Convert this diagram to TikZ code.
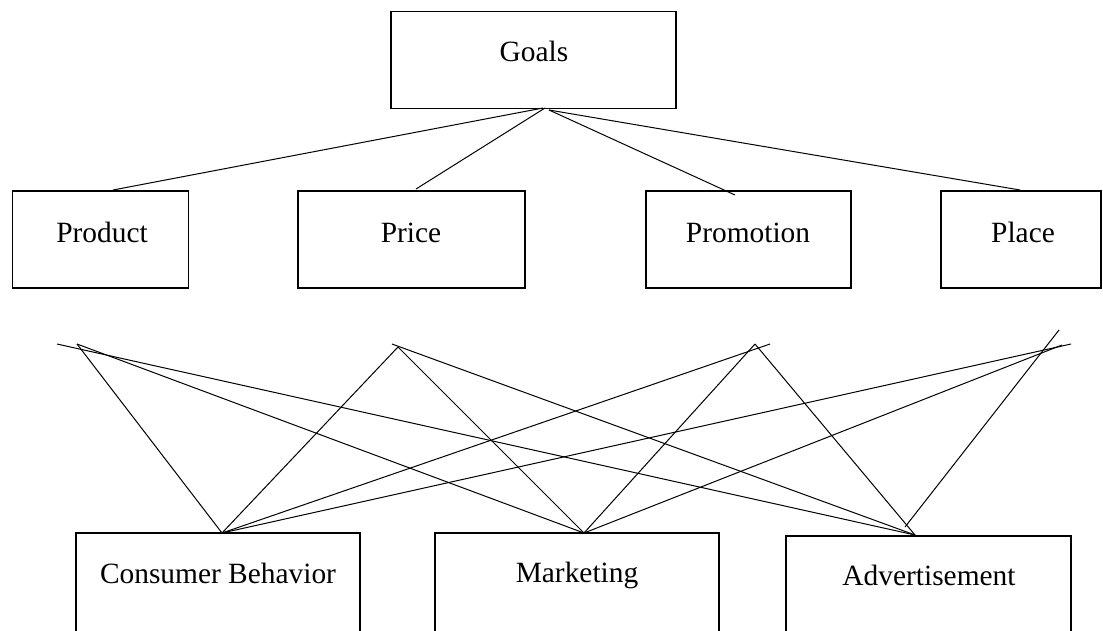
\documentclass[tikz,border=0pt]{standalone}
\usepackage{fontspec}
\setmainfont{Liberation Serif}
\begin{document}
\begin{tikzpicture}[x=1pt,y=-1pt,
  box/.style={draw, line width=1.4pt, inner sep=0pt},
  lbl/.style={font=\fontsize{29.4}{34}\selectfont, inner sep=0pt, anchor=base},
  conn/.style={line width=1pt}]
\useasboundingbox (0,0) rectangle (1103,630);
\fill[white] (0,0) rectangle (1103,630);
\clip (0,0) rectangle (1103,630);
% boxes
\node[box, minimum width=285pt, minimum height=97pt] (goals) at (533.5,60) {};
\node[box, minimum width=176pt, minimum height=97pt] (product) at (100.6,239.5) {};
\node[box, minimum width=227pt, minimum height=97pt] (price) at (411.3,239.5) {};
\node[box, minimum width=205pt, minimum height=97pt] (promotion) at (748.5,239.5) {};
\node[box, minimum width=160pt, minimum height=97pt] (place) at (1021,239.5) {};
\node[box, minimum width=284pt, minimum height=130pt] (cb) at (218,598) {};
\node[box, minimum width=284pt, minimum height=130pt] (mkt) at (577,598) {};
\node[box, minimum width=285pt, minimum height=130pt] (adv) at (928.5,601) {};
% labels
\node[lbl] (goalsT) at (534,61) {Goals};
\node[lbl] (productT) at (102,242) {Product};
\node[lbl] (priceT) at (411,242) {Price};
\node[lbl] (promotionT) at (748,242) {Promotion};
\node[lbl] (placeT) at (1023,242) {Place};
\node[lbl] (cbT) at (218,583) {Consumer Behavior};
\node[lbl] (mktT) at (577,582) {Marketing};
\node[lbl] (advT) at (929,585) {Advertisement};
% connector ends at Goals and P boxes
\coordinate (g1) at (543,108);
\coordinate (g2) at (545,108);
\coordinate (g3) at (549,110);
\coordinate (p1) at (113,190);
\coordinate (p2) at (416,189);
\coordinate (p3) at (735,195);
\coordinate (p4) at (1020,190);
\draw[conn] (g1) -- (p1);
\draw[conn] (g2) -- (p2);
\draw[conn] (g3) -- (p3);
\draw[conn] (g3) -- (p4);
% lower crossing lines
\coordinate (cbtop) at (222,533);
\coordinate (mkttop) at (584,533);
\coordinate (advtop) at (915,535);
\coordinate (advtopb) at (905,527);
\coordinate (a1) at (77,344);
\coordinate (a2) at (57,344);
\coordinate (b1) at (398,347);
\coordinate (b2) at (392,344);
\coordinate (c1) at (755,344);
\coordinate (c2) at (770,344);
\coordinate (d1) at (1059,330);
\coordinate (d2) at (1071,344);
\coordinate (d3) at (1062,345);
\draw[conn] (a1) -- (cbtop);
\draw[conn] (a1) -- (mkttop);
\draw[conn] (a2) -- (advtop);
\draw[conn] (b1) -- (cbtop);
\draw[conn] (b1) -- (mkttop);
\draw[conn] (b2) -- (advtop);
\draw[conn] (c1) -- (mkttop);
\draw[conn] (c1) -- (advtop);
\draw[conn] (c2) -- (cbtop);
\draw[conn] (d1) -- (advtopb);
\draw[conn] (d2) -- (cbtop);
\draw[conn] (d3) -- (mkttop);
\end{tikzpicture}
\end{document}
